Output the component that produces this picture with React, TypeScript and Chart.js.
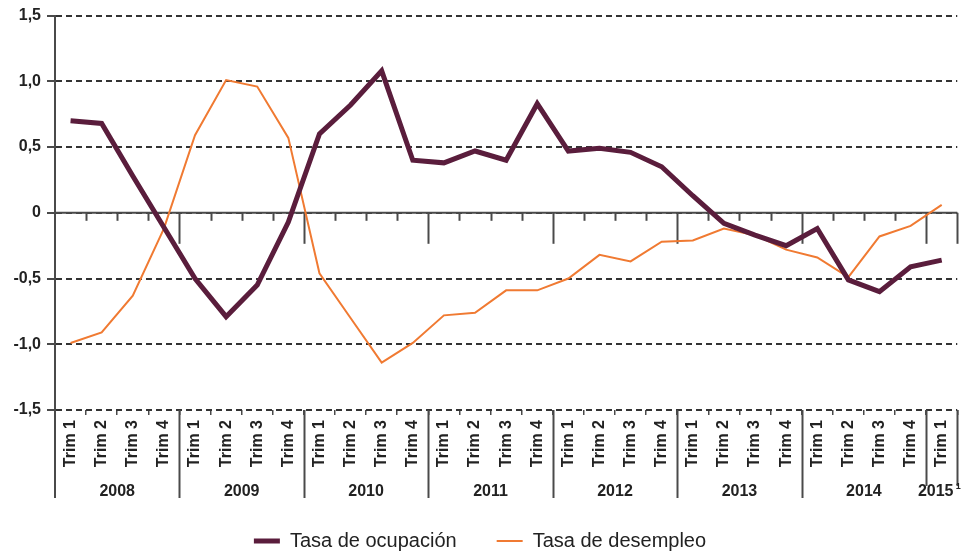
import React, { useEffect, useRef } from 'react';
import { Chart, registerables } from 'chart.js';

Chart.register(...registerables);

const years = ['2008', '2009', '2010', '2011', '2012', '2013', '2014', '2015'];
const quarterLabels = ['Trim 1', 'Trim 2', 'Trim 3', 'Trim 4'];
const quartersPerYear = [4, 4, 4, 4, 4, 4, 4, 1];

const tasaOcupacion = [
  0.70, 0.68, 0.28, -0.11,
  -0.50, -0.79, -0.55, -0.07,
  0.60, 0.82, 1.08, 0.40,
  0.38, 0.47, 0.40, 0.83,
  0.47, 0.49, 0.46, 0.35,
  0.13, -0.08, -0.17, -0.25,
  -0.12, -0.51, -0.60, -0.41,
  -0.36,
];

const tasaDesempleo = [
  -0.99, -0.91, -0.63, -0.12,
  0.59, 1.01, 0.96, 0.57,
  -0.46, -0.80, -1.14, -0.99,
  -0.78, -0.76, -0.59, -0.59,
  -0.50, -0.32, -0.37, -0.22,
  -0.21, -0.12, -0.17, -0.28,
  -0.34, -0.49, -0.18, -0.10,
  0.06,
];

const yMin = -1.5;
const yMax = 1.5;
const yStep = 0.5;

const categories: string[] = [];
years.forEach((y, i) => {
  for (let q = 0; q < quartersPerYear[i]; q++) categories.push(quarterLabels[q]);
});

const FONT = "'Liberation Sans', Arial, sans-serif";
const TEXT = '#222222';
const AXIS = '#4a4a4a';

const decorPlugin = {
  id: 'decor',
  beforeDatasetsDraw(chart: any) {
    const { ctx, chartArea, scales } = chart;
    const y = scales.y;
    const n = categories.length;
    const w = (chartArea.right - chartArea.left) / n;
    const y0 = y.getPixelForValue(0);
    ctx.save();
    ctx.strokeStyle = AXIS;
    ctx.lineWidth = 2;
    ctx.setLineDash([]);
    ctx.beginPath();
    ctx.moveTo(chartArea.left, y0);
    ctx.lineTo(chartArea.right, y0);
    ctx.stroke();
    let idx = 0;
    const majors = new Set<number>();
    quartersPerYear.forEach((q) => {
      idx += q;
      majors.add(idx);
    });
    for (let k = 1; k <= n; k++) {
      const bx = Math.round(chartArea.left + k * w) + 0.5;
      const len = majors.has(k) ? 31 : 8;
      ctx.beginPath();
      ctx.moveTo(bx, y0);
      ctx.lineTo(bx, y0 + len);
      ctx.stroke();
    }
    ctx.restore();
  },
  afterDraw(chart: any) {
    const { ctx, chartArea } = chart;
    const n = categories.length;
    const w = (chartArea.right - chartArea.left) / n;
    ctx.save();
    ctx.strokeStyle = AXIS;
    ctx.lineWidth = 2;
    ctx.setLineDash([]);
    ctx.beginPath();
    ctx.moveTo(chartArea.left, chartArea.bottom);
    ctx.lineTo(chartArea.left, 498);
    ctx.stroke();
    let start = 0;
    ctx.fillStyle = TEXT;
    ctx.font = `bold 16px ${FONT}`;
    ctx.textAlign = 'center';
    ctx.textBaseline = 'middle';
    years.forEach((yr, i) => {
      const end = start + quartersPerYear[i];
      const bx = Math.round(chartArea.left + end * w) + 0.5;
      const last = i >= years.length - 2;
      ctx.beginPath();
      ctx.moveTo(bx, chartArea.bottom);
      ctx.lineTo(bx, last ? 486 : 498);
      ctx.stroke();
      const cx = chartArea.left + ((start + end) / 2) * w;
      if (i === years.length - 1) {
        ctx.fillText(yr, cx - 6, 492);
        ctx.font = `bold 9px ${FONT}`;
        ctx.textAlign = 'left';
        ctx.fillText('1', cx + 14, 487);
      } else {
        ctx.fillText(yr, cx, 492);
      }
      start = end;
    });
    ctx.restore();
  },
};

export default function App() {
  const ref = useRef<HTMLCanvasElement | null>(null);
  useEffect(() => {
    if (!ref.current) return;
    const chart = new Chart(ref.current, {
      type: 'line',
      data: {
        labels: categories,
        datasets: [
          {
            label: 'Tasa de ocupación',
            data: tasaOcupacion,
            borderColor: '#5a1d3c',
            backgroundColor: '#5a1d3c',
            borderWidth: 5,
            pointRadius: 0,
            pointStyle: 'line',
            tension: 0,
          },
          {
            label: 'Tasa de desempleo',
            data: tasaDesempleo,
            borderColor: '#f07a32',
            backgroundColor: '#f07a32',
            borderWidth: 2,
            pointRadius: 0,
            pointStyle: 'line',
            tension: 0,
          },
        ],
      },
      options: {
        responsive: false,
        animation: false,
        layout: { padding: { top: 15, right: 6, left: 0, bottom: -4 } },
        plugins: {
          legend: {
            position: 'bottom',
            labels: {
              usePointStyle: true,
              pointStyle: 'line',
              pointStyleWidth: 26,
              padding: 40,
              color: TEXT,
              font: { family: FONT, size: 20 },
            },
          },
          tooltip: { enabled: false },
        },
        scales: {
          x: {
            offset: true,
            grid: {
              display: true,
              drawOnChartArea: false,
              offset: true,
              tickLength: 5,
              color: AXIS,
              lineWidth: 1.5,
            },
            border: { display: false },
            ticks: {
              autoSkip: false,
              minRotation: 90,
              maxRotation: 90,
              padding: 5,
              color: TEXT,
              font: { family: FONT, size: 16, weight: 'bold' },
            },
            afterFit: (s: any) => {
              s.height = 81;
            },
          },
          y: {
            min: yMin,
            max: yMax,
            grid: {
              color: '#333333',
              lineWidth: 2,
              tickLength: 8,
              tickColor: AXIS,
            },
            border: { display: true, color: AXIS, width: 2, dash: [6, 4] },
            ticks: {
              stepSize: yStep,
              padding: 6,
              color: TEXT,
              font: { family: FONT, size: 16, weight: 'bold' },
              callback: (v: any) =>
                Number(v) === 0 ? '0' : Number(v).toFixed(1).replace('.', ','),
            },
            afterFit: (s: any) => {
              s.width = 55;
            },
          },
        },
      },
      plugins: [decorPlugin],
    } as any);
    return () => chart.destroy();
  }, []);
  return (
    <div style={{ position: 'fixed', left: 0, top: 0, width: 966, height: 557, background: '#fff' }}>
      <canvas ref={ref} width={966} height={557} style={{ display: 'block' }} />
    </div>
  );
}
